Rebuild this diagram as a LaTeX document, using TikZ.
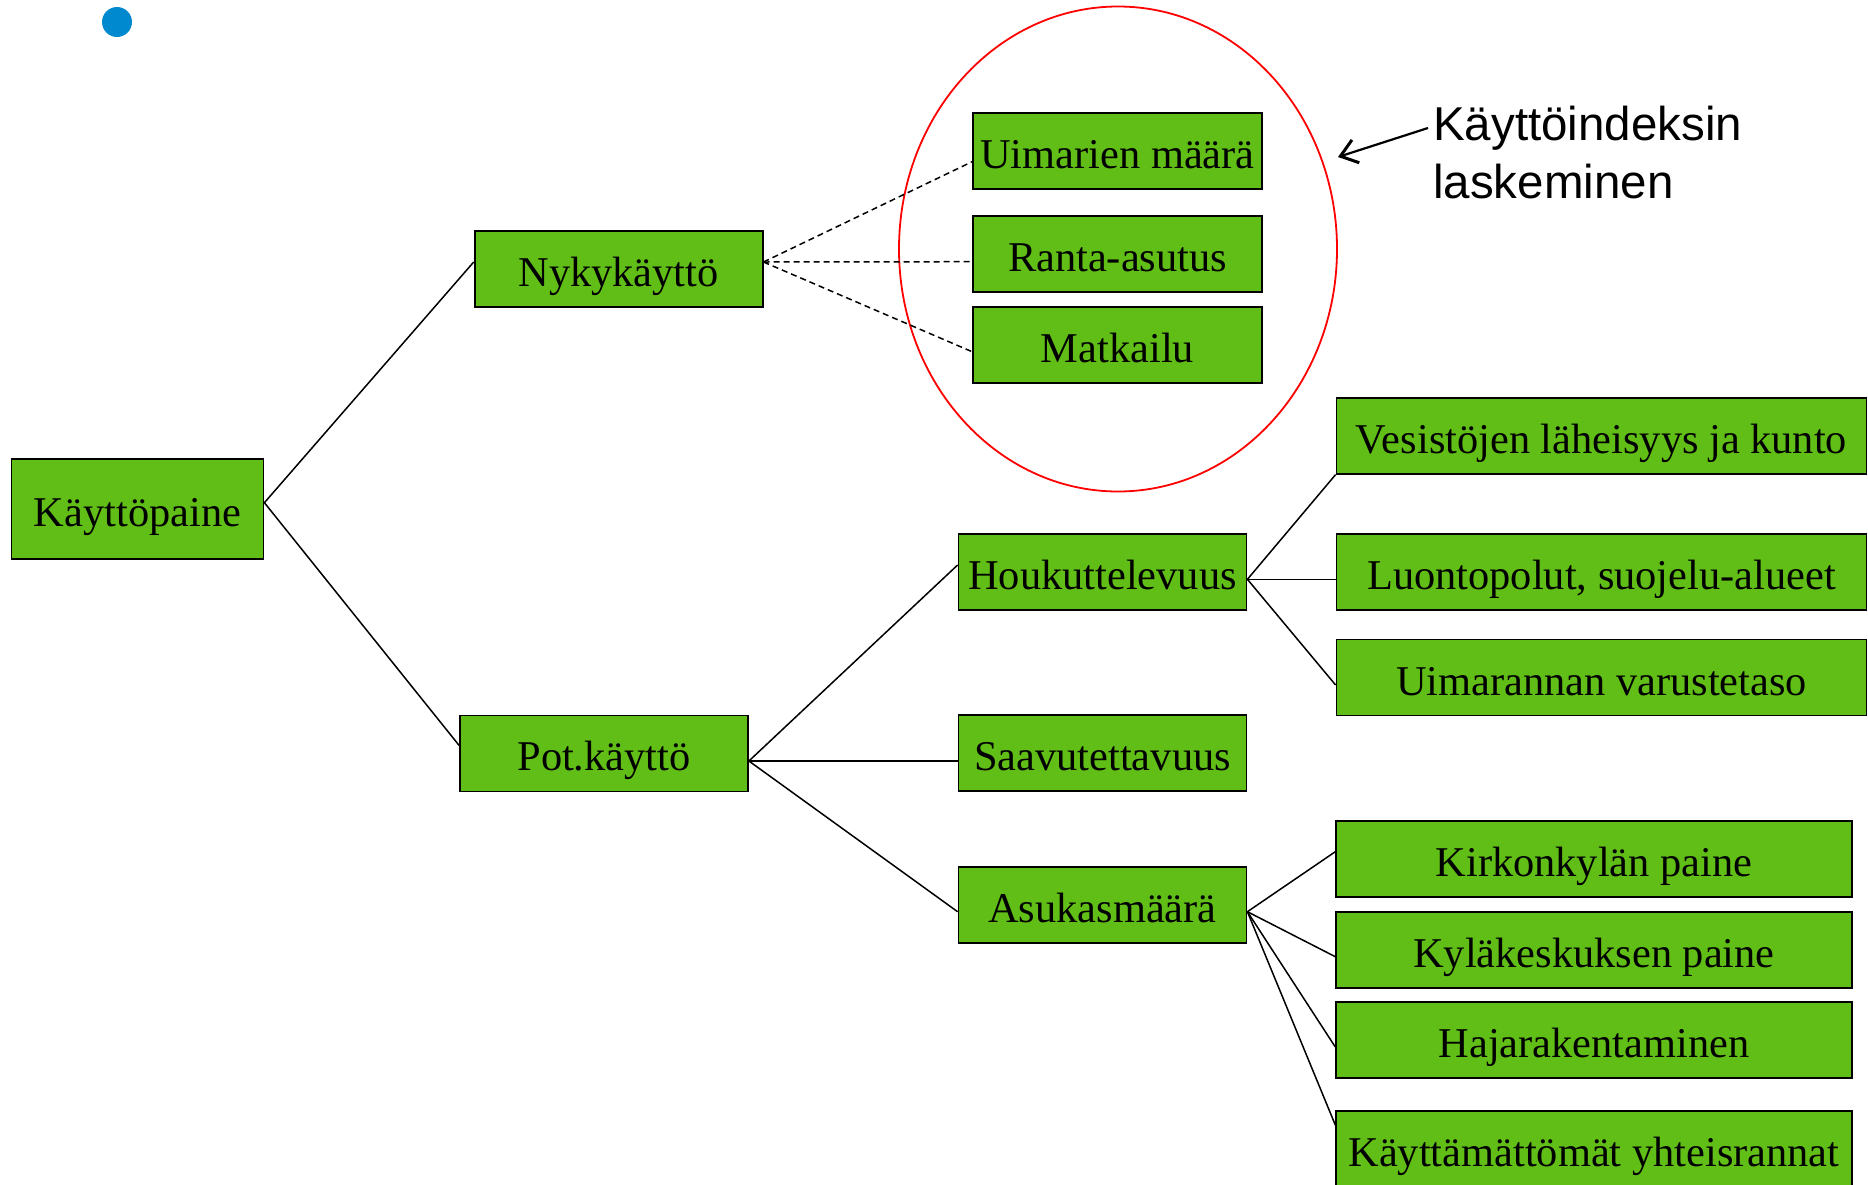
\documentclass[tikz,border=0pt]{standalone}
\usepackage{fontspec}
\setmainfont{Liberation Serif}
\newfontfamily\notefont{Liberation Sans}
\usetikzlibrary{positioning, arrows.meta}
\definecolor{boxgreen}{RGB}{96,190,22}
\definecolor{dotblue}{RGB}{0,137,207}

\begin{document}
\begin{tikzpicture}[x=1pt, y=-1pt]
  \tikzstyle{box}=[rectangle, draw=black, line width=1.8pt, fill=boxgreen, minimum height=76pt, inner sep=0pt, text height=44pt, text depth=9pt, font=\fontsize{42.4}{50}\selectfont]
  \tikzstyle{wide}=[box, minimum width=288pt]
  \useasboundingbox (0,0) rectangle (1868,1184);
  \fill[dotblue] (117,22) circle (15pt);
  \draw[red, line width=1.8pt] (1118,249) ellipse [x radius=219pt, y radius=242.5pt];

  \node[box, minimum width=252pt, minimum height=100pt] (kp) at (137.5,508.7) {Käyttöpaine};
  \node[wide] (nyk) at (618.6,269) {Nykykäyttö};
  \node[wide] (pot) at (604,753.4) {Pot.käyttö};
  \node[wide, minimum width=289pt] (uim) at (1117.5,151) {Uimarien määrä};
  \node[wide, minimum width=289pt] (ranta) at (1117.5,254.2) {Ranta-asutus};
  \node[wide, minimum width=289pt] (matk) at (1117.5,344.7) {Matkailu};
  \node[wide] (houk) at (1102.5,571.6) {Houkuttelevuus};
  \node[wide] (saav) at (1102.5,753.3) {Saavutettavuus};
  \node[wide] (asuk) at (1102.5,904.7) {Asukasmäärä};
  \node[box, minimum width=530pt] (vesi) at (1601.5,435.7) {Vesistöjen läheisyys ja kunto};
  \node[box, minimum width=530pt] (luonto) at (1601.5,572) {Luontopolut, suojelu-alueet};
  \node[box, minimum width=530pt] (varust) at (1601.5,677.5) {Uimarannan varustetaso};
  \node[box, minimum width=515.6pt] (kirkko) at (1594,858.7) {Kirkonkylän paine};
  \node[box, minimum width=515.6pt] (kyla) at (1594,949.7) {Kyläkeskuksen paine};
  \node[box, minimum width=515.6pt] (haja) at (1594,1040) {Hajarakentaminen};
  \node[box, minimum width=515.6pt] (yhteis) at (1594,1148.7) {Käyttämättömät yhteisrannat};

  \node[anchor=base west, inner sep=0pt, align=left, font=\notefont\fontsize{47.5}{58}\selectfont] (note) at (1433,198) {Käyttöindeksin\\laskeminen};
  \coordinate (notetip) at (1338,157);
  \draw[->, >={Straight Barb[length=16pt, width=24pt, line width=3pt]}, line width=2.2pt] (1428,128) -- (notetip);

  \path[line width=1.5pt]
    ([yshift=6pt]kp.east) edge ([yshift=7pt]nyk.west)
    ([yshift=6pt]kp.east) edge ([yshift=8pt]pot.west)
    ([yshift=-7.6pt]pot.east) edge ([yshift=6.6pt]houk.west)
    ([yshift=-7.6pt]pot.east) edge ([yshift=-7.7pt]saav.west)
    ([yshift=-7.6pt]pot.east) edge ([yshift=-7pt]asuk.west)
    ([yshift=-7.7pt]houk.east) edge (vesi.south west)
    ([yshift=-7.7pt]houk.east) edge ([yshift=-7.3pt]luonto.west)
    ([yshift=-7.7pt]houk.east) edge ([yshift=-7.5pt]varust.west)
    ([yshift=-7pt]asuk.east) edge ([yshift=7pt]kirkko.west)
    ([yshift=-7pt]asuk.east) edge ([yshift=-7pt]kyla.west)
    ([yshift=-7pt]asuk.east) edge ([yshift=-7pt]haja.west)
    ([yshift=-7pt]asuk.east) edge ([yshift=23.7pt]yhteis.west);
  \path[line width=1.5pt, dash pattern=on 6pt off 4pt]
    ([yshift=7pt]nyk.east) edge ([yshift=-10.7pt]uim.west)
    ([yshift=7pt]nyk.east) edge ([yshift=-7.5pt]ranta.west)
    ([yshift=7pt]nyk.east) edge ([yshift=-7pt]matk.west);

\end{tikzpicture}
\end{document}
